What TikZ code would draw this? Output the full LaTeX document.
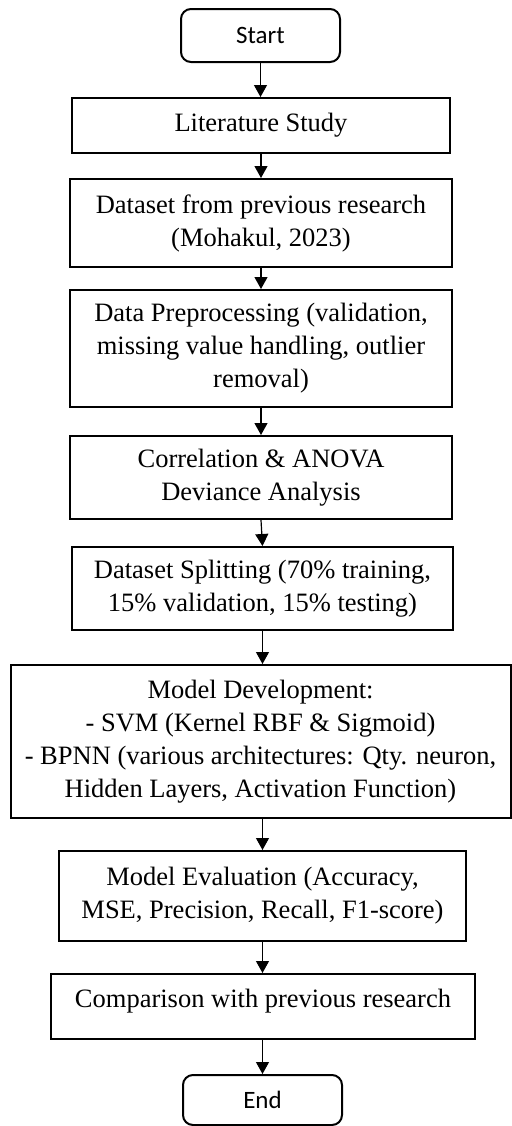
\documentclass[tikz,border=0pt]{standalone}
\usepackage{fontspec}
\setmainfont{Liberation Serif}
\newfontfamily\calib{Carlito}
\usetikzlibrary{arrows.meta}
\begin{document}
\begin{tikzpicture}[x=0.5pt,y=-0.5pt,
  box/.style={draw, line width=1pt, align=center, inner sep=0pt,
    font=\fontsize{13.25}{16.5}\selectfont},
  term/.style={draw, line width=1pt, rounded corners=5pt, inner sep=0pt,
    font=\calib\fontsize{12.5}{15}\selectfont},
  arr/.style={line width=0.6pt, -{Triangle[width=6.5pt,length=6pt]}}]
\useasboundingbox (0,0) rectangle (512,1126);
\node[term, minimum width=79.5pt, minimum height=26.5pt] (start) at (260.5,35.5) {Start};
\node[box, minimum width=189pt, minimum height=27.5pt] (lit) at (261,125.5) {Literature Study};
\node[box, minimum width=191pt, minimum height=44pt] (data) at (261,223) {Dataset from previous research\\(Mohakul, 2023)};
\node[box, minimum width=191pt, minimum height=58.5pt] (prep) at (261,348.5) {Data Preprocessing (validation,\\missing value handling, outlier\\removal)};
\node[box, minimum width=191pt, minimum height=41.5pt] (corr) at (261,477.5) {Correlation \& ANOVA\\Deviance Analysis};
\node[box, minimum width=190.5pt, minimum height=41.5pt] (split) at (262.5,588.5) {Dataset Splitting (70\% training,\\15\% validation, 15\% testing)};
\node[box, minimum width=250pt, minimum height=76.5pt] (model) at (260.5,741.5) {Model Development:\\- SVM (Kernel RBF \& Sigmoid)\\- BPNN (various architectures: Qty. neuron,\\Hidden Layers, Activation Function)};
\node[box, minimum width=203.5pt, minimum height=45pt] (eval) at (262.5,896) {Model Evaluation (Accuracy,\\MSE, Precision, Recall, F1-score)};
\node[box, minimum width=212pt, minimum height=32.5pt, text depth=8pt] (comp) at (263,1006.5) {Comparison with previous research};
\node[term, minimum width=79.5pt, minimum height=25pt] (end) at (262.5,1100) {End};
\draw[arr] (start.south) -- (start.south |- lit.north);
\draw[arr] (lit.south) -- (lit.south |- data.north);
\draw[arr] (data.south) -- (data.south |- prep.north);
\draw[arr] (prep.south) -- (prep.south |- corr.north);
\draw[arr] (corr.south) -- (split.north);
\draw[arr] (split.south) -- (split.south |- model.north);
\draw[arr] (model.south -| eval.north) -- (eval.north);
\draw[arr] (eval.south) -- (eval.south |- comp.north);
\draw[arr] (comp.south -| end.north) -- (end.north);
\end{tikzpicture}
\end{document}
